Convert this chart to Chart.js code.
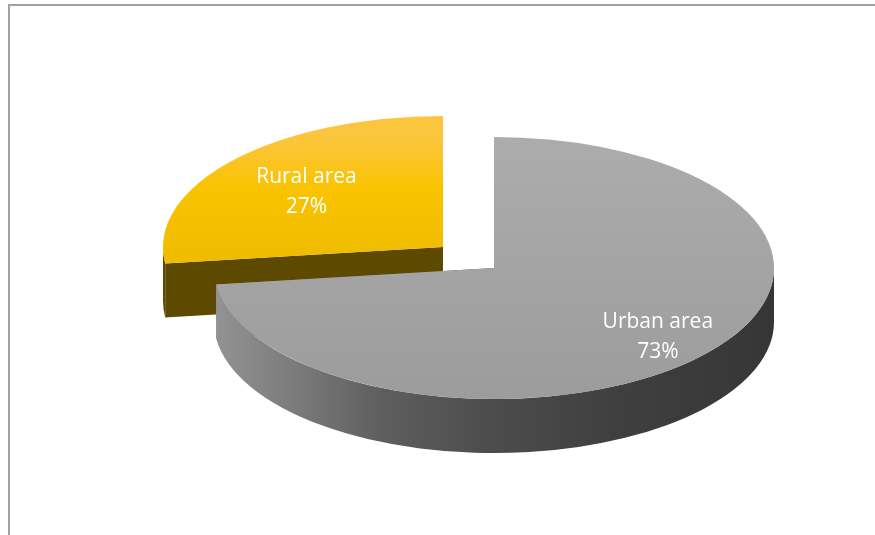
<!DOCTYPE html>
<html>
<head>
<meta charset="utf-8">
<style>
  html, body { margin: 0; padding: 0; background: #fff; }
  #wrap { width: 875px; height: 535px; }
</style>
</head>
<body>
<div id="wrap"><canvas id="myChart"></canvas></div>
<script src="https://cdn.jsdelivr.net/npm/chart.js@4.4.1/dist/chart.umd.min.js"></script>
<script>
let labels = ['Urban area', 'Rural area']
let shares = [73, 27]

// look of the tilted pie
let tilt = 0.468        // vertical squash of the disc
let depth = 54          // thickness in screen px
let explode = [0, 68]   // how far each slice is pulled out
let labelRadius = [0.78, 0.65]
let wallColors = [
    [[0, '#939393'], [0.15, '#7a7a7a'], [0.3, '#5e5e5e'], [0.5, '#4c4c4c'], [0.7, '#404040'], [1, '#363636']],
    [[0, '#5e4900'], [1, '#5e4900']]
]

function topFill(context) {
    let i = context.dataIndex
    let chart = context.chart
    let area = chart.chartArea
    if (!area) return i ? '#f8c200' : '#a6a6a6'
    let cy = (area.top + area.bottom) / 2
    let r = 280
    let g = chart.ctx.createLinearGradient(0, cy - r, 0, cy + r)
    if (i === 0) {
        g.addColorStop(0, '#acacac')
        g.addColorStop(1, '#9c9c9c')
    } else {
        g.addColorStop(0, '#fbc63e')
        g.addColorStop(0.2, '#f9c300')
        g.addColorStop(0.45, '#efbc00')
    }
    return g
}

function squash(ctx, cy) {
    ctx.translate(0, cy * (1 - tilt))
    ctx.scale(1, tilt)
}

let pie3d = {
    id: 'pie3d',
    beforeDraw(chart) {
        // frame
        let ctx = chart.ctx
        ctx.save()
        ctx.strokeStyle = '#a2a2a2'
        ctx.lineWidth = 2
        ctx.beginPath()
        ctx.moveTo(9, 540)
        ctx.lineTo(9, 5)
        ctx.lineTo(880, 5)
        ctx.stroke()
        ctx.restore()
    },
    afterDatasetsUpdate(chart) {
        // pull exploded slices out along their middle angle
        chart.getDatasetMeta(0).data.forEach((arc, i) => {
            let mid = (arc.startAngle + arc.endAngle) / 2
            arc.x += Math.cos(mid) * explode[i]
            arc.y += Math.sin(mid) * explode[i]
        })
    },
    beforeDatasetsDraw(chart) {
        let ctx = chart.ctx
        let area = chart.chartArea
        let cy = (area.top + area.bottom) / 2
        let D = depth / tilt
        let arcs = chart.getDatasetMeta(0).data
        let order = arcs.map((a, i) => i).sort((a, b) => arcs[a].y - arcs[b].y)

        ctx.save()
        squash(ctx, cy)

        order.forEach(i => {
            let arc = arcs[i]
            let { x, y, startAngle, endAngle, outerRadius: r } = arc
            let fill = ctx.createLinearGradient(x - r, 0, x + r, 0)
            wallColors[i].forEach(([at, c]) => fill.addColorStop(at, c))
            ctx.fillStyle = fill

            // cut faces
            ;[startAngle, endAngle].forEach(a => {
                let ex = x + Math.cos(a) * r
                let ey = y + Math.sin(a) * r
                ctx.beginPath()
                ctx.moveTo(x, y)
                ctx.lineTo(ex, ey)
                ctx.lineTo(ex, ey + D)
                ctx.lineTo(x, y + D)
                ctx.closePath()
                ctx.fill()
            })

            // outer wall, front half only
            let twoPi = Math.PI * 2
            for (let k = -1; k <= 1; k++) {
                let a0 = Math.max(startAngle, k * twoPi)
                let a1 = Math.min(endAngle, k * twoPi + Math.PI)
                if (a1 <= a0) continue
                ctx.beginPath()
                ctx.arc(x, y, r, a0, a1)
                ctx.arc(x, y + D, r, a1, a0, true)
                ctx.closePath()
                ctx.fill()
            }
        })
        // leave the squash on so the library draws the top faces as ellipses
    },
    afterDatasetsDraw(chart) {
        let ctx = chart.ctx
        ctx.restore()

        let area = chart.chartArea
        let cy = (area.top + area.bottom) / 2
        let arcs = chart.getDatasetMeta(0).data
        let total = shares.reduce((s, v) => s + v, 0)

        ctx.save()
        ctx.fillStyle = '#ffffff'
        ctx.font = '21px "Open Sans"'
        ctx.textAlign = 'center'
        ctx.textBaseline = 'alphabetic'
        arcs.forEach((arc, i) => {
            let mid = (arc.startAngle + arc.endAngle) / 2
            let rr = arc.outerRadius * labelRadius[i]
            let lx = arc.x + Math.cos(mid) * rr
            let ly = cy + (arc.y + Math.sin(mid) * rr - cy) * tilt
            ctx.fillText(labels[i], lx, ly - 8)
            ctx.fillText(Math.round(shares[i] / total * 100) + '%', lx, ly + 22)
        })
        ctx.restore()
    }
}

let ctx = document.getElementById('myChart')
let myChart = new Chart(ctx, {
    type: 'pie',
    data: {
        labels,
        datasets: [
            {
                data: shares,
                backgroundColor: topFill,
                borderWidth: 0,
                clip: false
            }
        ]
    },
    options: {
        responsive: true,
        maintainAspectRatio: false,
        animation: false,
        radius: 280,
        layout: {
            padding: { left: 113, right: 0, top: 1, bottom: 0 }
        },
        plugins: {
            legend: { display: false },
            tooltip: { enabled: false }
        }
    },
    plugins: [pie3d]
})
</script>
</body>
</html>
